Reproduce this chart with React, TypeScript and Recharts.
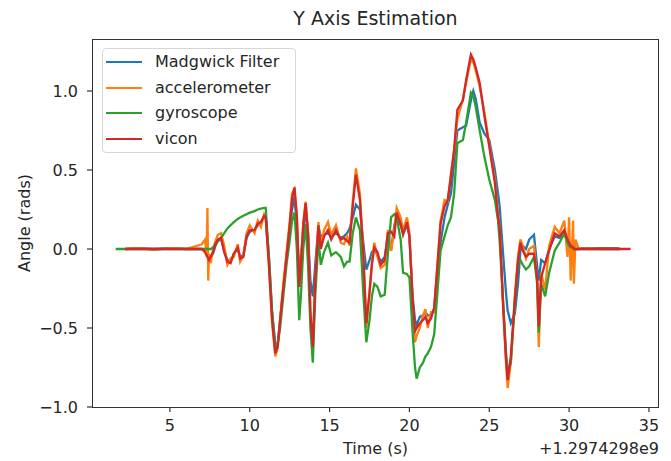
import React from 'react';
import { LineChart, Line, XAxis, YAxis, Legend } from 'recharts';

const times = [1.6, 2.2, 3.0, 4.0, 5.0, 6.0, 7.0, 7.2, 7.3, 7.35, 7.4, 7.45, 7.55, 7.7, 7.85, 8.0, 8.2, 8.4, 8.6, 8.8, 9.0, 9.25, 9.4, 9.6, 9.8, 10.0, 10.3, 10.5, 10.7, 10.9, 11.0, 11.2, 11.4, 11.6, 11.75, 11.9, 12.1, 12.3, 12.5, 12.65, 12.8, 12.95, 13.1, 13.2, 13.35, 13.5, 13.65, 13.8, 13.95, 14.1, 14.3, 14.45, 14.65, 14.9, 15.1, 15.4, 15.7, 15.9, 16.1, 16.25, 16.45, 16.65, 16.9, 17.1, 17.3, 17.5, 17.65, 17.8, 18.0, 18.2, 18.45, 18.65, 18.85, 19.05, 19.2, 19.45, 19.6, 19.85, 20.0, 20.2, 20.35, 20.45, 20.65, 20.85, 21.0, 21.15, 21.35, 21.55, 21.75, 21.95, 22.2, 22.4, 22.6, 22.8, 23.0, 23.35, 23.55, 23.85, 24.0, 24.15, 24.4, 24.7, 25.0, 25.35, 25.55, 25.65, 25.85, 26.05, 26.15, 26.35, 26.6, 26.8, 26.95, 27.1, 27.3, 27.5, 27.8, 28.0, 28.1, 28.25, 28.5, 28.75, 29.1, 29.4, 29.7, 29.9, 30.0, 30.1, 30.25, 30.3, 30.4, 30.6, 31.0, 32.0, 33.0, 33.2, 33.85];

const madgwick = [null, 0, 0.005, 0, 0.005, 0, 0, -0.01, -0.03, -0.04, -0.05, -0.06, -0.05, -0.03, 0.02, 0.05, 0.07, -0.01, -0.07, -0.08, -0.03, 0.0, -0.05, -0.04, 0.07, 0.11, 0.12, 0.15, 0.17, 0.2, 0.2, -0.05, -0.4, -0.6, -0.6, -0.45, -0.25, -0.05, 0.12, 0.25, 0.33, 0.15, -0.2, -0.05, 0.1, 0.25, 0.1, -0.2, -0.3, -0.1, 0.14, 0.08, 0.09, 0.1, 0.08, 0.1, 0.07, 0.08, 0.1, 0.13, 0.2, 0.28, 0.25, 0.05, -0.13, -0.07, -0.02, 0.0, -0.04, -0.08, -0.05, 0.08, -0.01, 0.15, 0.2, 0.15, 0.1, 0.15, 0.08, -0.3, -0.45, -0.48, -0.43, -0.42, -0.4, -0.42, -0.42, -0.38, -0.15, 0.04, 0.2, 0.28, 0.35, 0.55, 0.75, 0.77, 0.78, 0.94, 1.0, 0.95, 0.8, 0.73, 0.69, 0.5, 0.35, 0.27, -0.01, -0.28, -0.39, -0.47, -0.41, -0.22, -0.01, 0.02, 0.0, 0.06, 0.09, -0.11, -0.2, -0.07, -0.09, 0.0, 0.08, 0.07, 0.1, 0.04, 0.02, 0.01, 0.01, 0.0, 0.0, 0.0, 0.005, 0.005, 0.005, 0, null];

const accelerometer = [null, 0, 0.005, -0.005, 0.005, 0, 0.03, 0.06, -0.05, 0.26, -0.2, -0.03, -0.09, 0.0, 0.05, 0.09, 0.1, 0.02, -0.1, -0.06, -0.05, 0.03, -0.08, -0.04, 0.1, 0.15, 0.1, 0.18, 0.14, 0.22, 0.2, -0.1, -0.47, -0.68, -0.62, -0.45, -0.22, -0.03, 0.17, 0.35, 0.38, 0.22, -0.22, -0.1, 0.17, 0.3, 0.1, -0.42, -0.64, -0.2, 0.17, 0.02, 0.12, 0.17, 0.09, 0.15, 0.04, 0.03, 0.08, 0.02, 0.3, 0.51, 0.35, 0.0, -0.5, -0.27, -0.08, 0.04, -0.05, -0.12, -0.1, 0.12, -0.01, 0.12, 0.26, 0.2, 0.12, 0.2, 0.1, -0.35, -0.59, -0.55, -0.5, -0.42, -0.38, -0.5, -0.4, -0.4, -0.1, 0.18, 0.31, 0.3, 0.48, 0.62, 0.82, 0.95, 1.05, 1.2, 1.18, 1.13, 1.03, 0.86, 0.66, 0.44, 0.22, 0.15, -0.33, -0.72, -0.88, -0.72, -0.3, -0.05, 0.06, 0.02, -0.06, 0.0, 0.02, -0.2, -0.62, -0.15, -0.26, 0.02, 0.14, 0.1, 0.18, -0.05, 0.2, -0.2, 0.18, -0.22, 0.06, 0.0, 0.005, 0, 0, 0, null];

const gyroscope = [0, 0, 0, 0, 0, 0, 0, 0, 0, 0, 0, 0, 0, 0.01, 0.03, 0.05, 0.07, 0.1, 0.13, 0.15, 0.17, 0.19, 0.2, 0.21, 0.22, 0.23, 0.24, 0.25, 0.255, 0.26, 0.26, -0.05, -0.4, -0.64, -0.6, -0.5, -0.3, -0.1, 0.05, 0.18, 0.23, 0.0, -0.45, -0.3, 0.0, 0.16, -0.1, -0.5, -0.72, -0.3, 0.06, -0.1, -0.02, 0.04, -0.04, -0.02, -0.05, -0.11, -0.08, -0.08, 0.1, 0.2, 0.12, -0.26, -0.59, -0.45, -0.3, -0.22, -0.24, -0.3, -0.29, -0.03, 0.2, 0.22, 0.2, 0.06, -0.15, -0.16, -0.18, -0.53, -0.75, -0.82, -0.75, -0.72, -0.68, -0.66, -0.62, -0.54, -0.28, -0.01, 0.08, 0.15, 0.2, 0.35, 0.67, 0.69, 0.8, 0.99, 0.97, 0.9, 0.75, 0.58, 0.44, 0.31, 0.18, 0.05, -0.3, -0.65, -0.78, -0.72, -0.35, -0.09, -0.07, -0.1, -0.13, -0.11, -0.05, -0.22, -0.53, -0.22, -0.3, -0.15, -0.01, 0.04, 0.1, 0.04, 0.02, 0.01, 0.01, 0.0, 0.0, 0, 0, 0, 0, 0, null];

const vicon = [null, 0, 0, 0, 0, 0, 0, -0.02, -0.04, -0.05, -0.06, -0.07, -0.05, -0.02, 0.03, 0.06, 0.07, -0.02, -0.08, -0.09, -0.03, 0.01, -0.06, -0.05, 0.08, 0.12, 0.12, 0.16, 0.17, 0.21, 0.2, -0.1, -0.45, -0.66, -0.62, -0.45, -0.25, -0.05, 0.15, 0.32, 0.39, 0.2, -0.24, -0.1, 0.15, 0.29, 0.1, -0.4, -0.62, -0.2, 0.15, 0.0, 0.08, 0.12, 0.06, 0.12, 0.06, 0.07, 0.05, 0.04, 0.27, 0.47, 0.31, -0.01, -0.47, -0.28, -0.1, 0.01, -0.02, -0.1, -0.07, 0.1, 0.11, 0.08, 0.23, 0.16, 0.09, 0.17, 0.08, -0.32, -0.52, -0.5, -0.47, -0.45, -0.43, -0.47, -0.44, -0.37, -0.11, 0.16, 0.27, 0.31, 0.46, 0.63, 0.88, 0.94, 1.07, 1.23, 1.2, 1.15, 1.05, 0.84, 0.65, 0.42, 0.2, 0.14, -0.32, -0.7, -0.83, -0.68, -0.32, -0.07, 0.04, -0.01, -0.05, -0.03, -0.03, -0.18, -0.49, -0.18, -0.09, -0.01, 0.1, 0.08, 0.12, 0.06, 0.04, 0.02, 0.01, 0.0, 0.0, 0, 0, 0, 0, 0, 0];

const yTicks = [-1.0, -0.5, 0.0, 0.5, 1.0];
const xTicks = [5, 10, 15, 20, 25, 30, 35];

const rows = times.map((t, i) => ({
  t,
  madgwick: madgwick[i],
  accelerometer: accelerometer[i],
  gyroscope: gyroscope[i],
  vicon: vicon[i],
}));

const FONT = '"DejaVu Sans", sans-serif';
const TXT = '#262626';

const fmtY = (v: number) => v.toFixed(1).replace('-', '\u2212');

const LegendContent = (props: any) => {
  const { payload } = props;
  return (
    <div style={{ width: 194, height: 105, boxSizing: 'border-box', border: '1px solid #d6d6d6', borderRadius: 4, background: 'rgba(255,255,255,0.8)', position: 'relative', fontFamily: FONT }}>
      {(payload || []).map((p: any, i: number) => (
        <div key={i} style={{ position: 'absolute', left: 3, top: Math.round(3 + i * 25.7), height: 20, width: 188 }}>
          <div style={{ position: 'absolute', left: 0, top: 9, width: 36, height: 2, background: p.color }} />
          <span style={{ position: 'absolute', left: 49, top: 0, lineHeight: '20px', fontSize: 16, color: TXT, whiteSpace: 'nowrap' }}>{p.value}</span>
        </div>
      ))}
    </div>
  );
};

export default function App() {
  return (
    <div style={{ position: 'absolute', left: 0, top: 0, width: 671, height: 461, background: '#fff' }}>
      <LineChart width={671} height={461} data={rows} margin={{ top: 39, right: 12, left: 0, bottom: 0 }}>
        <XAxis
          dataKey="t"
          type="number"
          domain={[0.12, 35.63]}
          ticks={xTicks}
          allowDataOverflow
          axisLine={false}
          tickLine={{ stroke: '#333', strokeWidth: 1.2 }}
          tickSize={5}
          tickMargin={8}
          height={54}
          tick={{ fontSize: 16, fill: TXT, fontFamily: FONT }}
        />
        <YAxis
          type="number"
          domain={[-1.0, 1.329]}
          ticks={yTicks}
          allowDataOverflow
          axisLine={false}
          tickLine={{ stroke: '#333', strokeWidth: 1.2 }}
          tickSize={5}
          tickMargin={9}
          width={92}
          tickFormatter={fmtY}
          tick={{ fontSize: 16, fill: TXT, fontFamily: FONT }}
        />
        <Legend
          layout="vertical"
          align="center"
          verticalAlign="middle"
          wrapperStyle={{ left: 102, top: 48, width: 194, height: 105 }}
          content={LegendContent}
        />
        <Line type="linear" dataKey="madgwick" name="Madgwick Filter" stroke="#1f77b4" strokeWidth={2.3} dot={false} isAnimationActive={false} />
        <Line type="linear" dataKey="accelerometer" name="accelerometer" stroke="#ff7f0e" strokeWidth={2.3} dot={false} isAnimationActive={false} />
        <Line type="linear" dataKey="gyroscope" name="gyroscope" stroke="#2ca02c" strokeWidth={2.3} dot={false} isAnimationActive={false} />
        <Line type="linear" dataKey="vicon" name="vicon" stroke="#d62728" strokeWidth={2.3} dot={false} isAnimationActive={false} />
      </LineChart>
      <div style={{ position: 'absolute', left: 92, top: 39, width: 567, height: 369, boxSizing: 'border-box', border: '1.2px solid #333', pointerEvents: 'none' }} />
      <div style={{ position: 'absolute', left: 92, width: 567, top: 7, textAlign: 'center', fontSize: 19, fontFamily: FONT, color: TXT }}>Y Axis Estimation</div>
      <div style={{ position: 'absolute', left: 92, width: 567, top: 439, textAlign: 'center', fontSize: 16, fontFamily: FONT, color: TXT }}>Time (s)</div>
      <div style={{ position: 'absolute', right: 12, top: 439, textAlign: 'right', fontSize: 16, fontFamily: FONT, color: TXT }}>+1.2974298e9</div>
      <div style={{ position: 'absolute', left: 24, top: 223, fontSize: 16, fontFamily: FONT, color: TXT, transform: 'translate(-50%, -50%) rotate(-90deg)', whiteSpace: 'nowrap' }}>Angle (rads)</div>
    </div>
  );
}
